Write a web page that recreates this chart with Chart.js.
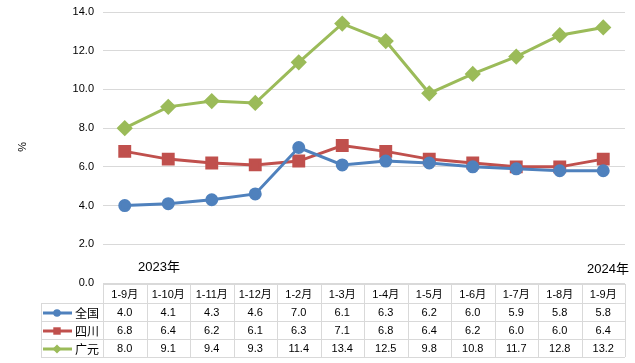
<!DOCTYPE html>
<html>
<head>
<meta charset="utf-8">
<script src="https://cdn.jsdelivr.net/npm/chart.js@4"></script>
<style>
  html, body { margin: 0; padding: 0; background: #fff; }
  #wrap { width: 635px; height: 363px; }
</style>
</head>
<body>
<div id="wrap"><canvas id="grafico" width="635" height="363"></canvas></div>
<script>
// Datos
const meses = ['1-9月', '1-10月', '1-11月', '1-12月', '1-2月', '1-3月', '1-4月', '1-5月', '1-6月', '1-7月', '1-8月', '1-9月'];
const quanguo = [4.0, 4.1, 4.3, 4.6, 7.0, 6.1, 6.3, 6.2, 6.0, 5.9, 5.8, 5.8];
const sichuan = [6.8, 6.4, 6.2, 6.1, 6.3, 7.1, 6.8, 6.4, 6.2, 6.0, 6.0, 6.4];
const guangyuan = [8.0, 9.1, 9.4, 9.3, 11.4, 13.4, 12.5, 9.8, 10.8, 11.7, 12.8, 13.2];
const yTicks = [0, 2, 4, 6, 8, 10, 12, 14];

const FONT = '"Liberation Sans", "Noto Sans CJK SC", sans-serif';
const CJK = '"Noto Sans CJK SC", sans-serif';
const gridColor = '#D9D9D9';

const chartData = {
    labels: meses,
    datasets: [
        {
            label: '全国',
            data: quanguo,
            borderColor: '#4F81BD',
            backgroundColor: '#4F81BD',
            borderWidth: 3,
            pointStyle: 'circle',
            pointRadius: 5
        },
        {
            label: '四川',
            data: sichuan,
            borderColor: '#C0504D',
            backgroundColor: '#C0504D',
            borderWidth: 3,
            pointStyle: 'rect',
            pointRadius: 7
        },
        {
            label: '广元',
            data: guangyuan,
            borderColor: '#9BBB59',
            backgroundColor: '#9BBB59',
            borderWidth: 3,
            pointStyle: 'rectRot',
            pointRadius: 6
        }
    ]
};

// tabla de datos debajo del gráfico
const tablaPlugin = {
    id: 'tabla',
    afterDraw(chart) {
        const ctx = chart.ctx;
        const area = chart.chartArea;
        const x = chart.scales.x;
        const colW = (area.right - area.left) / meses.length;
        const top = area.bottom + 1;
        const rowH = [19, 18, 18, 18];
        const legLeft = 41;
        ctx.save();
        ctx.strokeStyle = gridColor;
        ctx.lineWidth = 1;
        // líneas horizontales
        let y = top;
        const ys = [y];
        rowH.forEach(h => { y += h; ys.push(y); });
        ctx.beginPath();
        ys.forEach((yy, i) => {
            const l = i === 0 ? area.left : legLeft;
            ctx.moveTo(l, Math.round(yy) + 0.5);
            ctx.lineTo(area.right, Math.round(yy) + 0.5);
        });
        // líneas verticales
        for (let i = 0; i <= meses.length; i++) {
            const xx = Math.round(area.left + i * colW) + 0.5;
            ctx.moveTo(xx, ys[0]);
            ctx.lineTo(xx, ys[4]);
        }
        ctx.moveTo(legLeft + 0.5, ys[1]);
        ctx.lineTo(legLeft + 0.5, ys[4]);
        ctx.stroke();

        ctx.fillStyle = '#000';
        ctx.textAlign = 'center';
        ctx.textBaseline = 'middle';
        ctx.font = '11px ' + FONT;
        meses.forEach((m, i) => {
            ctx.fillText(m, x.getPixelForValue(i), (ys[0] + ys[1]) / 2 + 1);
        });
        chart.data.datasets.forEach((ds, r) => {
            const cy = (ys[r + 1] + ys[r + 2]) / 2 + 1;
            ctx.font = '11px ' + FONT;
            ctx.fillStyle = '#000';
            ds.data.forEach((v, i) => {
                ctx.fillText(v.toFixed(1), x.getPixelForValue(i), cy);
            });
            // leyenda
            ctx.strokeStyle = ds.borderColor;
            ctx.lineWidth = 3;
            ctx.beginPath();
            ctx.moveTo(43, cy);
            ctx.lineTo(72, cy);
            ctx.stroke();
            ctx.fillStyle = ds.backgroundColor;
            Chart.helpers.drawPoint(ctx, {pointStyle: ds.pointStyle, radius: ds.pointRadius * 0.75, borderWidth: 0}, 57, cy);
            ctx.fillStyle = '#000';
            ctx.font = '12px ' + CJK;
            ctx.textAlign = 'left';
            ctx.fillText(ds.label, 75, cy);
            ctx.textAlign = 'center';
        });

        // años y unidad
        ctx.fillStyle = '#000';
        ctx.font = '13px ' + FONT;
        ctx.textAlign = 'center';
        ctx.fillText('2023年', 159, 267);
        ctx.textAlign = 'right';
        ctx.fillText('2024年', 629, 269);
        ctx.translate(21, 147);
        ctx.rotate(Math.PI / 2);
        ctx.textAlign = 'center';
        ctx.font = '11px ' + FONT;
        ctx.fillText('%', 0, 0);
        ctx.restore();
    }
};

const chartOptions = {
    responsive: false,
    animation: false,
    layout: { padding: { top: 12, right: 7, bottom: 80, left: 0 } },
    plugins: { legend: { display: false }, tooltip: { enabled: false } },
    elements: { line: { tension: 0 } },
    scales: {
        x: { display: false, offset: true },
        y: {
            min: 0,
            max: 14,
            afterBuildTicks(scale) { scale.ticks = yTicks.map(v => ({ value: v })); },
            afterFit(scale) {
                scale.width = 103;
                scale.paddingTop = 0;
                scale.paddingBottom = 0;
            },
            border: { display: false },
            grid: { color: gridColor, drawTicks: false },
            ticks: {
                padding: 9,
                color: '#000',
                font: { size: 11, family: FONT },
                callback: v => v.toFixed(1)
            }
        }
    }
};

const canvas = document.getElementById('grafico');
const ctx = canvas.getContext('2d');
const chart = new Chart(ctx, {
    type: 'line',
    data: chartData,
    options: chartOptions,
    plugins: [tablaPlugin]
});
</script>
</body>
</html>
